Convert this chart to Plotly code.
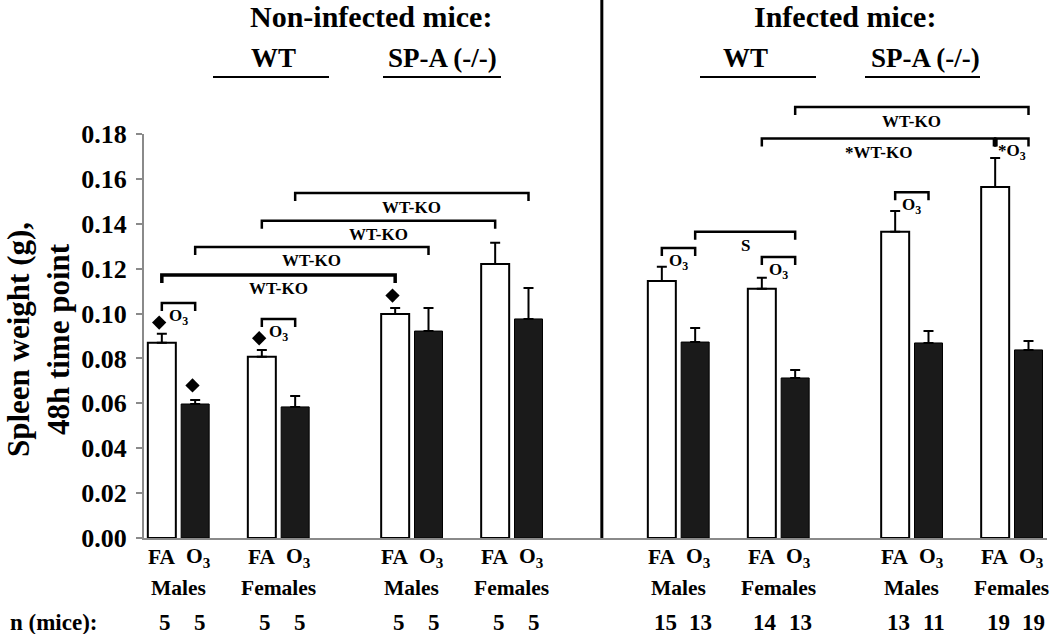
import plotly.graph_objects as go

# ---------------- data ----------------
sections = ["Non-infected mice:", "Infected mice:"]
genotypes = ["WT", "SP-A (-/-)", "WT", "SP-A (-/-)"]
groups = ["Males", "Females", "Males", "Females", "Males", "Females", "Males", "Females"]
treatments = ["FA", "O<sub>3</sub>"]
fa_mean = [0.0870, 0.0807, 0.0998, 0.1221, 0.1145, 0.1110, 0.1364, 0.1564]
fa_err = [0.0040, 0.0031, 0.0027, 0.0094, 0.0063, 0.0049, 0.0093, 0.0129]
o3_mean = [0.0597, 0.0584, 0.0922, 0.0976, 0.0873, 0.0713, 0.0869, 0.0838]
o3_err = [0.0018, 0.0049, 0.0103, 0.0138, 0.0063, 0.0036, 0.0053, 0.0040]
n_fa = [5, 5, 5, 5, 15, 14, 13, 19]
n_o3 = [5, 5, 5, 5, 13, 13, 11, 19]
yticks = [0.00, 0.02, 0.04, 0.06, 0.08, 0.10, 0.12, 0.14, 0.16, 0.18]
# diamonds: (group, treatment, value)
diamond_group = [0, 0, 1, 2]
diamond_treat = ["FA", "O3", "FA", "FA"]
diamond_val = [0.0960, 0.0680, 0.0890, 0.1080]
# significance brackets: (group1, treat1, group2, treat2, height, label)
brackets = [
    (0, "FA", 2, "FA", 0.1172, "WT-KO"),
    (0, "O3", 2, "O3", 0.1297, "WT-KO"),
    (1, "FA", 3, "FA", 0.1413, "WT-KO"),
    (1, "O3", 3, "O3", 0.1537, "WT-KO"),
    (0, "FA", 0, "O3", 0.1047, "O<sub>3</sub>"),
    (1, "FA", 1, "O3", 0.0976, "O<sub>3</sub>"),
    (4, "FA", 4, "O3", 0.1292, "O<sub>3</sub>"),
    (5, "FA", 5, "O3", 0.1252, "O<sub>3</sub>"),
    (6, "FA", 6, "O3", 0.1540, "O<sub>3</sub>"),
    (4, "O3", 5, "O3", 0.1364, "S"),
    (5, "O3", 7, "O3", 0.1920, "WT-KO"),
    (5, "FA", 7, "FA", 0.1780, "*WT-KO"),
    (7, "FA", 7, "O3", 0.1780, "*O<sub>3</sub>"),
]

# ---------------- layout constants ----------------
W, H = 1050, 634
ML, MR, MT, MB = 144, 3, 134, 96
PW, PH = W - ML - MR, H - MT - MB
YMAX = 0.18
group_pos = [0, 3, 7, 10, 15, 18, 22, 25]
XMIN, XMAX = -1.035, 26.055
BAR_OFF, BAR_W = 0.5, 0.84
FONT = "Liberation Serif, Times New Roman, serif"

fa_x = [p - BAR_OFF for p in group_pos]
o3_x = [p + BAR_OFF for p in group_pos]


def bx(g, t):
    return fa_x[g] if t == "FA" else o3_x[g]


def py(pix):  # pixel row -> paper y
    return (H - MB - pix) / PH


def px(pix):  # pixel column -> paper x
    return (pix - ML) / PW


def vy(v):  # data value -> paper y
    return v / YMAX


fig = go.Figure()
fig.add_trace(go.Bar(
    x=fa_x, y=fa_mean, width=BAR_W, marker=dict(color="white", line=dict(color="black", width=2)),
    error_y=dict(type="data", array=fa_err, arrayminus=[0] * len(fa_err), symmetric=False,
                 color="black", thickness=2, width=5),
    showlegend=False, name="FA"))
fig.add_trace(go.Bar(
    x=o3_x, y=o3_mean, width=BAR_W, marker=dict(color="#1a1a1a", line=dict(color="black", width=1)),
    error_y=dict(type="data", array=o3_err, arrayminus=[0] * len(o3_err), symmetric=False,
                 color="black", thickness=2, width=5),
    showlegend=False, name="O3"))
fig.add_trace(go.Scatter(
    x=[bx(g, t) - 0.08 for g, t in zip(diamond_group, diamond_treat)], y=diamond_val,
    mode="markers", marker=dict(symbol="diamond", size=11, color="black"),
    showlegend=False, cliponaxis=False))

shapes = []
ann = []
LEG = 8 / PH
bold = dict(family=FONT, color="black", weight="bold")

for g1, t1, g2, t2, h, lab in brackets:
    x1, x2 = bx(g1, t1), bx(g2, t2)
    yt = vy(h)
    lw = 3.5 if (g1, t1, g2, t2) == (0, "FA", 2, "FA") else 2.5
    shapes.append(dict(type="path", xref="x", yref="paper",
                       path=f"M {x1},{yt - LEG} L {x1},{yt} L {x2},{yt} L {x2},{yt - LEG}",
                       line=dict(color="black", width=lw)))
    ann.append(dict(x=(x1 + x2) / 2, y=yt - 14 / PH, xref="x", yref="paper", text=lab,
                    showarrow=False, font=dict(size=17, **bold), xanchor="center", yanchor="middle"))
# thick tick at junction of the two infected brackets
shapes.append(dict(type="line", xref="x", yref="paper", x0=fa_x[7], x1=fa_x[7],
                   y0=vy(0.178) - LEG, y1=vy(0.178), line=dict(color="black", width=5)))

# divider
div_x = 12.7
shapes.append(dict(type="line", xref="x", yref="paper", x0=div_x, x1=div_x, y0=0, y1=py(0),
                   line=dict(color="black", width=3)))

# headers
ann.append(dict(x=px(371), y=py(17), xref="paper", yref="paper", text=sections[0], showarrow=False,
                font=dict(size=30, **bold), xanchor="center", yanchor="middle"))
ann.append(dict(x=px(845), y=py(17), xref="paper", yref="paper", text=sections[1], showarrow=False,
                font=dict(size=30, **bold), xanchor="center", yanchor="middle"))
sub_centers = [273, 442, 745, 925]
under = [(213, 329), (383, 501), (700, 816), (865, 980)]
for lab, c, (a, b) in zip(genotypes, sub_centers, under):
    ann.append(dict(x=px(c), y=py(58), xref="paper", yref="paper", text=lab, showarrow=False,
                    font=dict(size=27, **bold), xanchor="center", yanchor="middle"))
    shapes.append(dict(type="line", xref="paper", yref="paper", x0=px(a), x1=px(b), y0=py(77), y1=py(77),
                       line=dict(color="black", width=2)))

# bottom labels
for i in range(len(groups)):
    ann.append(dict(x=fa_x[i], y=py(557), xref="x", yref="paper", text=treatments[0], showarrow=False,
                    font=dict(size=21.5, **bold), xanchor="center", yanchor="middle"))
    ann.append(dict(x=o3_x[i] + 0.1, y=py(557), xref="x", yref="paper", text=treatments[1], showarrow=False,
                    font=dict(size=21.5, **bold), xanchor="center", yanchor="middle"))
    ann.append(dict(x=group_pos[i], y=py(588), xref="x", yref="paper", text=groups[i], showarrow=False,
                    font=dict(size=21.5, **bold), xanchor="center", yanchor="middle"))
    ann.append(dict(x=fa_x[i] + 0.1, y=py(622), xref="x", yref="paper", text=str(n_fa[i]), showarrow=False,
                    font=dict(size=23, **bold), xanchor="center", yanchor="middle"))
    ann.append(dict(x=o3_x[i] + 0.15, y=py(622), xref="x", yref="paper", text=str(n_o3[i]), showarrow=False,
                    font=dict(size=23, **bold), xanchor="center", yanchor="middle"))
ann.append(dict(x=px(54), y=py(622), xref="paper", yref="paper", text="n (mice):", showarrow=False,
                font=dict(size=23, **bold), xanchor="center", yanchor="middle"))

# y title
ann.append(dict(x=px(38), y=py(340), xref="paper", yref="paper", text="Spleen weight (g),<br>48h time point",
                showarrow=False, textangle=-90, font=dict(size=31, **bold), xanchor="center", yanchor="middle"))

fig.update_layout(
    width=W, height=H, margin=dict(l=ML, r=MR, t=MT, b=MB),
    paper_bgcolor="white", plot_bgcolor="white", barmode="overlay",
    font=dict(family=FONT, color="black"),
    shapes=shapes, annotations=ann,
    xaxis=dict(range=[XMIN, XMAX], showgrid=False, zeroline=False, showticklabels=False, ticks="",
               showline=True, linecolor="#8a8a8a", linewidth=2, fixedrange=True),
    yaxis=dict(range=[0, YMAX], tickvals=yticks, tickformat=".2f", showgrid=False, zeroline=False,
               showline=True, linecolor="#8a8a8a", linewidth=2, ticks="outside", ticklen=6,
               tickcolor="#8a8a8a", tickwidth=2, tickfont=dict(size=26, **bold), ticklabelstandoff=4),
)

fig.write_html("out.html", config={"displayModeBar": False},
               post_script="document.body.style.margin='0px';")
